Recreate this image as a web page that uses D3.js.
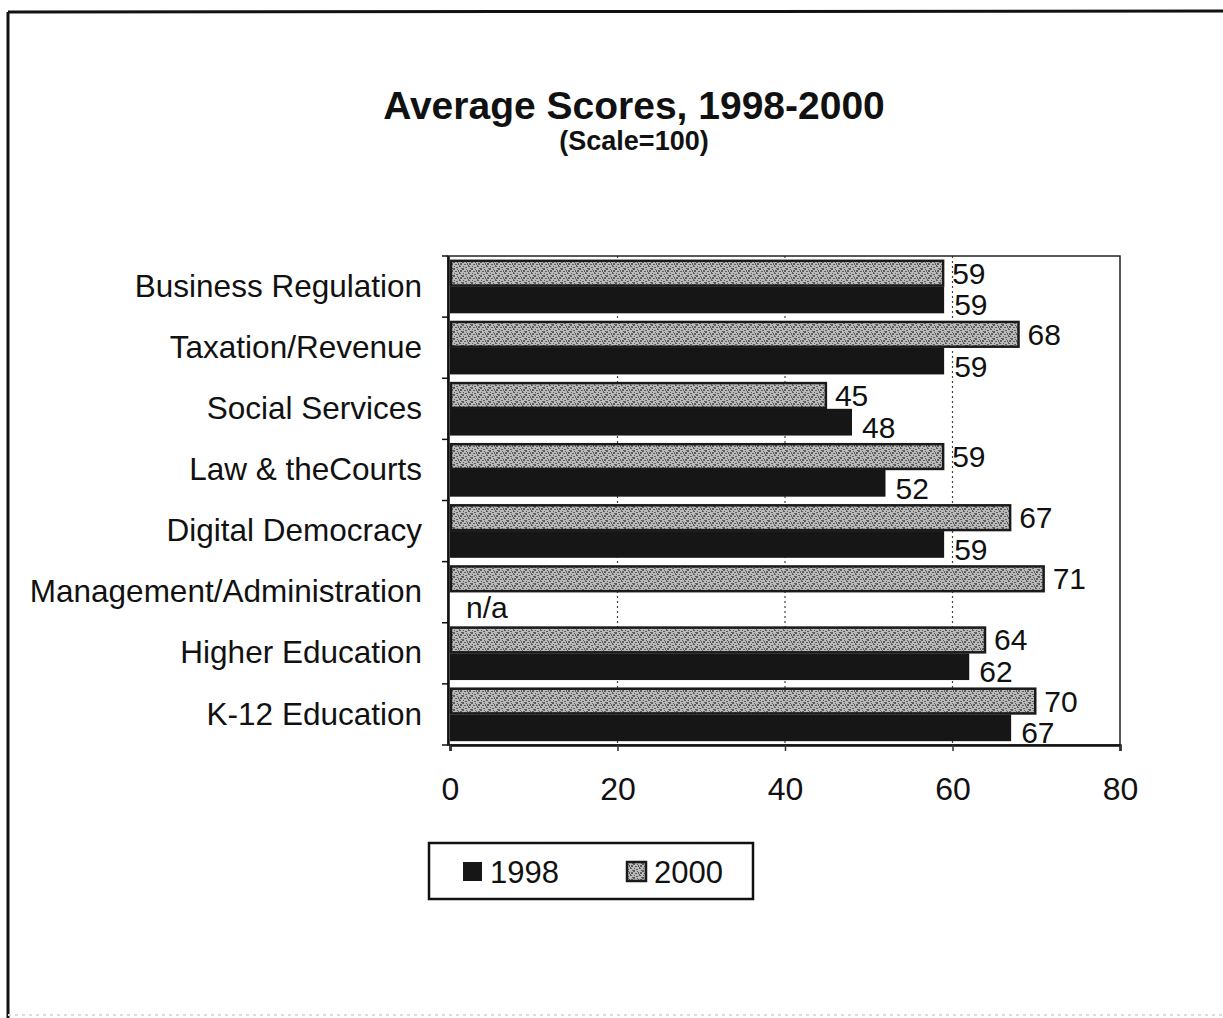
<!DOCTYPE html>
<html>
<head>
<meta charset="utf-8">
<script src="https://cdn.jsdelivr.net/npm/d3@7"></script>
<style>
  html, body { margin: 0; padding: 0; background: #fff; }
  svg { display: block; font-family: "Liberation Sans", Arial, sans-serif; }
</style>
</head>
<body>
<svg id="chart" width="1223" height="1018"></svg>
<script>
// Survey categories, top to bottom
const categories = [
  "Business Regulation",
  "Taxation/Revenue",
  "Social Services",
  "Law & theCourts",
  "Digital Democracy",
  "Management/Administration",
  "Higher Education",
  "K-12 Education"
];
// Average scores per year (null = not available)
const scores1998 = [59, 59, 48, 52, 59, null, 62, 67];
const scores2000 = [59, 68, 45, 59, 67, 71, 64, 70];
const seriesNames = ["1998", "2000"];
const xTicks = [0, 20, 40, 60, 80];

const svg = d3.select("#chart");
const W = 1223, H = 1018;

// Pattern for the 2000 series: speckled grey
const defs = svg.append("defs");
const pat = defs.append("pattern")
  .attr("id", "speckle")
  .attr("patternUnits", "userSpaceOnUse")
  .attr("width", 9).attr("height", 7);
pat.append("rect").attr("width", 9).attr("height", 7).attr("fill", "#b9b9b9");
[[0,0,2,1],[3,2,2,2],[6,1,2,1],[1,4,2,2],[5,5,2,1],[4,0,1,1],[8,4,1,2],[2,2,1,1],[7,3,1,1],[0,6,1,1]]
  .forEach(([x, y, w, h]) => pat.append("rect")
    .attr("x", x).attr("y", y).attr("width", w).attr("height", h)
    .attr("fill", "#5e5e5e"));

// Page frame
svg.append("line").attr("x1", 8).attr("y1", 12).attr("x2", W).attr("y2", 11)
  .attr("stroke", "#111").attr("stroke-width", 3);
svg.append("line").attr("x1", 8).attr("y1", 12).attr("x2", 8).attr("y2", H)
  .attr("stroke", "#111").attr("stroke-width", 3);
svg.append("line").attr("x1", 8).attr("y1", 1015).attr("x2", W).attr("y2", 1015)
  .attr("stroke", "#ddd").attr("stroke-width", 2).attr("stroke-dasharray", "3,4");

// Titles
svg.append("text").attr("x", 634).attr("y", 119)
  .attr("text-anchor", "middle").attr("font-weight", "bold")
  .attr("font-size", 39).attr("fill", "#111")
  .text("Average Scores, 1998-2000");
svg.append("text").attr("x", 634).attr("y", 150)
  .attr("text-anchor", "middle").attr("font-weight", "bold")
  .attr("font-size", 27).attr("fill", "#111")
  .text("(Scale=100)");

// Plot area
const plot = { left: 450, right: 1120, top: 256, bottom: 745 };

const x = d3.scaleLinear().domain([0, 80]).range([plot.left, plot.right]);
const y = d3.scaleBand().domain(categories)
  .range([plot.top, plot.bottom]).paddingInner(0.125).paddingOuter(0.0625);
const ySub = d3.scaleBand().domain(["2000", "1998"]).range([0, y.bandwidth()]);

const g = svg.append("g");

// Dotted vertical gridlines
g.selectAll("line.grid").data(xTicks.filter(t => t > 0 && t < 80)).join("line")
  .attr("class", "grid")
  .attr("x1", d => x(d)).attr("x2", d => x(d))
  .attr("y1", plot.top).attr("y2", plot.bottom)
  .attr("stroke", "#444").attr("stroke-width", 1.2)
  .attr("stroke-dasharray", "2,3");

// Plot border
g.append("rect")
  .attr("x", plot.left - 2).attr("y", plot.top)
  .attr("width", plot.right - plot.left + 2).attr("height", plot.bottom - plot.top)
  .attr("fill", "none").attr("stroke", "#222").attr("stroke-width", 1.5);

const rows = categories.map((c, i) => ({ cat: c, v1998: scores1998[i], v2000: scores2000[i] }));

// 1998 bars (solid black)
g.selectAll("rect.b1998").data(rows.filter(r => r.v1998 != null)).join("rect")
  .attr("class", "b1998")
  .attr("x", x(0))
  .attr("y", d => y(d.cat) + ySub("1998"))
  .attr("width", d => x(d.v1998) - x(0))
  .attr("height", ySub.bandwidth())
  .attr("fill", "#161616");

// 2000 bars (speckled, outlined)
g.selectAll("rect.b2000").data(rows).join("rect")
  .attr("class", "b2000")
  .attr("x", x(0) + 1)
  .attr("y", d => y(d.cat) + ySub("2000") + 1)
  .attr("width", d => x(d.v2000) - x(0) - 2)
  .attr("height", ySub.bandwidth() - 2)
  .attr("fill", "url(#speckle)")
  .attr("stroke", "#1a1a1a").attr("stroke-width", 2.5);

// Value labels
const lblSize = 30;
g.selectAll("text.l2000").data(rows).join("text")
  .attr("class", "l2000")
  .attr("x", d => x(d.v2000) + 8)
  .attr("y", d => y(d.cat) + ySub("2000") + ySub.bandwidth() / 2)
  .attr("dy", "0.35em")
  .attr("font-size", lblSize).attr("fill", "#111")
  .text(d => d.v2000);
g.selectAll("text.l1998").data(rows).join("text")
  .attr("class", "l1998")
  .attr("x", d => d.v1998 == null ? x(0) + 16 : x(d.v1998) + 10)
  .attr("y", d => y(d.cat) + ySub("1998") + ySub.bandwidth() / 2 + (d.v1998 == null ? 2 : 5))
  .attr("dy", "0.35em")
  .attr("font-size", lblSize).attr("fill", "#111")
  .text(d => d.v1998 == null ? "n/a" : d.v1998);

// Left (category) axis
const yAxis = d3.axisLeft(y).tickSize(0).tickPadding(26);
const ya = g.append("g").attr("transform", `translate(${plot.left - 2},0)`).call(yAxis);
ya.select(".domain").attr("stroke", "#111").attr("stroke-width", 2.5);
ya.selectAll(".tick text").attr("font-size", 31.5).attr("fill", "#111")
  .attr("font-family", "'Liberation Sans', Arial, sans-serif");
// category separator ticks
g.selectAll("line.ctick").data(d3.range(categories.length + 1)).join("line")
  .attr("class", "ctick")
  .attr("x1", plot.left - 8).attr("x2", plot.left - 2)
  .attr("y1", i => plot.top + i * y.step()).attr("y2", i => plot.top + i * y.step())
  .attr("stroke", "#111").attr("stroke-width", 1.5);

// Bottom (value) axis
const xAxis = d3.axisBottom(x).tickValues(xTicks).tickSize(6).tickPadding(26).tickFormat(d3.format("d"));
const xa = g.append("g").attr("transform", `translate(0,${plot.bottom})`).call(xAxis);
xa.select(".domain").attr("stroke", "#111").attr("stroke-width", 2.5);
xa.selectAll(".tick line").attr("stroke", "#333").attr("stroke-width", 1.5);
xa.selectAll(".tick text").attr("font-size", 32).attr("fill", "#111")
  .attr("font-family", "'Liberation Sans', Arial, sans-serif");

// Legend
const lg = svg.append("g");
lg.append("rect").attr("x", 429).attr("y", 843).attr("width", 324).attr("height", 56)
  .attr("fill", "#fff").attr("stroke", "#111").attr("stroke-width", 2.5);
const legendItems = [
  { name: seriesNames[0], sx: 463, fill: "#161616", stroke: "none" },
  { name: seriesNames[1], sx: 627, fill: "url(#speckle)", stroke: "#1a1a1a" }
];
legendItems.forEach(it => {
  lg.append("rect").attr("x", it.sx).attr("y", 862).attr("width", 19).attr("height", 19)
    .attr("fill", it.fill).attr("stroke", it.stroke).attr("stroke-width", 2.5);
  lg.append("text").attr("x", it.sx + 27).attr("y", 883)
    .attr("font-size", 31).attr("fill", "#111").text(it.name);
});
</script>
</body>
</html>
